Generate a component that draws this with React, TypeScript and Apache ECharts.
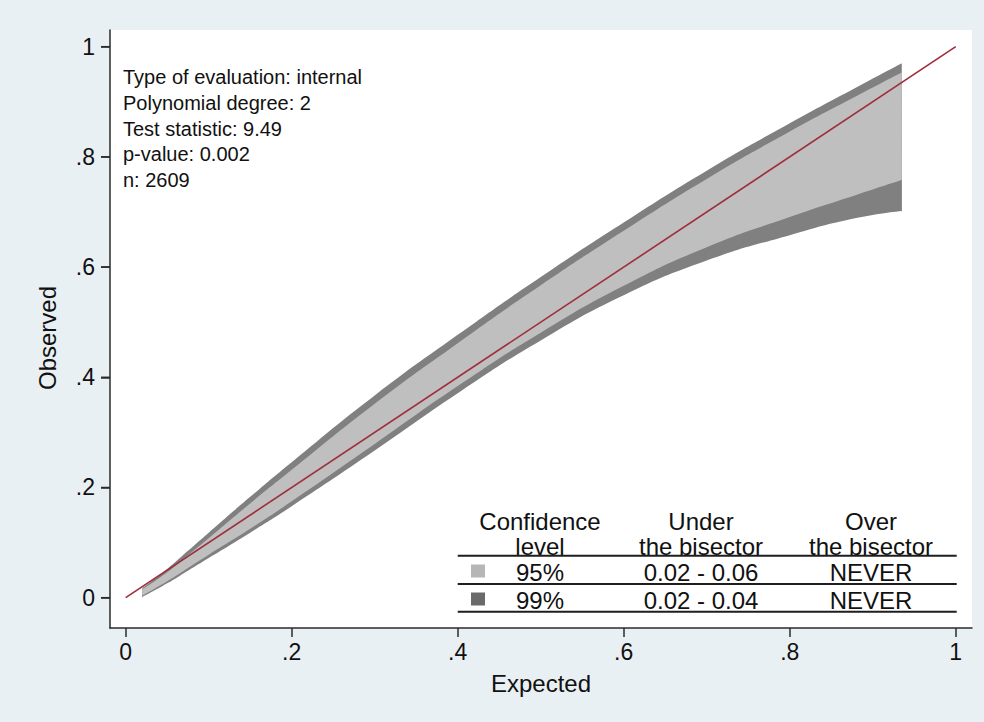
import React, { useEffect, useRef } from "react";
import * as echarts from "echarts";

// Calibration belt
const beltX = [0.02, 0.05, 0.075, 0.1, 0.15, 0.2, 0.3, 0.4, 0.5, 0.6, 0.7, 0.8, 0.88, 0.935];
const upper99 = [0.017, 0.052, 0.085, 0.118, 0.183, 0.246, 0.367, 0.477, 0.582, 0.681, 0.775, 0.861, 0.926, 0.97];
const upper95 = [0.015, 0.046, 0.077, 0.108, 0.171, 0.232, 0.352, 0.462, 0.567, 0.666, 0.76, 0.846, 0.91, 0.953];
const lower95 = [0.004, 0.03, 0.054, 0.078, 0.125, 0.175, 0.279, 0.384, 0.481, 0.566, 0.636, 0.691, 0.731, 0.758];
const lower99 = [0.001, 0.026, 0.049, 0.072, 0.118, 0.166, 0.267, 0.371, 0.467, 0.549, 0.612, 0.658, 0.689, 0.702];

const bisector = [
  [0, 0],
  [1, 1],
];

const tickValues = [0, 0.2, 0.4, 0.6, 0.8, 1];

const statsLines = [
  "Type of evaluation: internal",
  "Polynomial degree: 2",
  "Test statistic: 9.49",
  "p-value: 0.002",
  "n: 2609",
];

const tableHeader1 = ["Confidence", "Under", "Over"];
const tableHeader2 = ["level", "the bisector", "the bisector"];
const confLevels = ["95%", "99%"];
const underRanges = ["0.02 - 0.06", "0.02 - 0.04"];
const overRanges = ["NEVER", "NEVER"];

const FONT = "'Liberation Sans', Arial, Helvetica, sans-serif";
const LIGHT = "#bfbfbf";
const DARK = "#808080";
const SQ_LIGHT = "#b6b6b6";
const SQ_DARK = "#6a6a6a";
const AXIS = "#2b2b2b";
const X_MIN = -0.0189;
const X_MAX = 1.0196;
const Y_MIN = -0.055;
const Y_MAX = 1.0303;

const fmtTick = (v: number) => {
  if (Math.abs(v) < 1e-9) return "0";
  if (Math.abs(v - 1) < 1e-9) return "1";
  return v.toFixed(1).replace(/^0/, "");
};

export default function App() {
  const ref = useRef<HTMLDivElement>(null);

  useEffect(() => {
    if (!ref.current) return;
    const chart = echarts.init(ref.current, undefined, { renderer: "svg" });

    const pts = (vals: number[]) => beltX.map((x, i) => [x, vals[i]]);

    const belt = (name: string, vals: number[], color: string) => ({
      type: "line" as const,
      name,
      data: pts(vals),
      symbol: "none",
      smooth: 0.5,
      lineStyle: { width: 0, opacity: 0 },
      areaStyle: { color, opacity: 1, origin: "start" },
      silent: true,
      z: 2,
    });

    const last = beltX.length - 1;

    // Table layout
    const colX = [540, 701, 871];
    const headY = [521.5, 546];
    const rowY = [572.5, 600.5];
    const ruleY = [555.7, 584, 611.7];
    const tableFs = 24;

    const graphics: any[] = [];
    statsLines.forEach((t, i) => {
      graphics.push({
        type: "text",
        left: 123,
        top: 67 + i * 25.8,
        z: 100,
        style: { text: t, fontSize: 20, fontFamily: FONT, fill: "#111" },
      });
    });
    const cell = (t: string, x: number, y: number) => ({
      type: "text",
      x,
      y,
      z: 100,
      style: { text: t, fontSize: tableFs, fontFamily: FONT, fill: "#111", align: "center", verticalAlign: "middle" },
    });
    tableHeader1.forEach((t, i) => graphics.push(cell(t, colX[i], headY[0])));
    tableHeader2.forEach((t, i) => graphics.push(cell(t, colX[i], headY[1])));
    confLevels.forEach((t, r) => {
      [t, underRanges[r], overRanges[r]].forEach((c, i) => graphics.push(cell(c, colX[i], rowY[r])));
      graphics.push({
        type: "rect",
        z: 100,
        shape: { x: 471, y: rowY[r] - 8, width: 14, height: 13 },
        style: { fill: r === 0 ? SQ_LIGHT : SQ_DARK },
      });
    });
    ruleY.forEach((y) => {
      graphics.push({
        type: "line",
        z: 100,
        shape: { x1: 457.7, y1: y, x2: 956.7, y2: y },
        style: { stroke: "#1e1e1e", lineWidth: 2 },
      });
    });
    graphics.push({
      type: "text",
      x: 541,
      y: 683,
      z: 100,
      style: { text: "Expected", fontSize: 24, fontFamily: FONT, fill: "#111", align: "center", verticalAlign: "middle" },
    });
    graphics.push({
      type: "text",
      x: 47,
      y: 338,
      z: 100,
      rotation: Math.PI / 2,
      style: { text: "Observed", fontSize: 24, fontFamily: FONT, fill: "#111", align: "center", verticalAlign: "middle" },
    });

    chart.setOption({
      animation: false,
      backgroundColor: "#e9f0f3",
      grid: [{ left: 110, top: 30, width: 862, height: 598, show: true, backgroundColor: "#ffffff", borderWidth: 0 }],
      xAxis: {
        type: "value",
        min: X_MIN,
        max: X_MAX,
        z: 20,
        axisLine: { show: true, onZero: false, lineStyle: { color: AXIS, width: 1.5 } },
        axisTick: { show: true, inside: false, length: 9, customValues: tickValues, lineStyle: { color: AXIS, width: 1.5 } },
        axisLabel: { margin: 12, fontSize: 23, fontFamily: FONT, color: "#111", customValues: tickValues, formatter: fmtTick },
        splitLine: { show: false },
      },
      yAxis: {
        type: "value",
        min: Y_MIN,
        max: Y_MAX,
        z: 20,
        axisLine: { show: true, onZero: false, lineStyle: { color: AXIS, width: 1.5 } },
        axisTick: { show: true, inside: false, length: 9, customValues: tickValues, lineStyle: { color: AXIS, width: 1.5 } },
        axisLabel: { margin: 15, fontSize: 23, fontFamily: FONT, color: "#111", customValues: tickValues, formatter: fmtTick },
        splitLine: { show: false },
      },
      series: [
        belt("99% upper", upper99, DARK),
        belt("95% upper", upper95, LIGHT),
        belt("95% lower", lower95, DARK),
        belt("99% lower", lower99, "#ffffff"),
        {
          // hide the anti-aliasing seam under the belt's two vertical ends
          type: "custom",
          name: "seam",
          data: [
            [beltX[0], lower99[0]],
            [beltX[last], lower99[last]],
          ],
          encode: { x: 0, y: 1 },
          clip: false,
          silent: true,
          z: 3,
          renderItem: (_params: any, api: any) => {
            const top = api.coord([api.value(0), api.value(1)]);
            const bottom = api.coord([api.value(0), Y_MIN]);
            return {
              type: "line",
              shape: { x1: top[0], y1: top[1] + 1, x2: bottom[0], y2: bottom[1] },
              style: { stroke: "#ffffff", lineWidth: 2.5 },
            };
          },
        },
        {
          type: "line",
          name: "bisector",
          data: bisector,
          symbol: "none",
          z: 5,
          lineStyle: { color: "#a02c3c", width: 1.6 },
          silent: true,
        },
        {
          // y-axis tick marks, placed through the axis scale
          type: "custom",
          name: "yticks",
          data: tickValues.map((v) => [X_MIN, v]),
          encode: { x: 0, y: 1 },
          clip: false,
          silent: true,
          z: 6,
          renderItem: (_params: any, api: any) => {
            const p = api.coord([api.value(0), api.value(1)]);
            return {
              type: "line",
              shape: { x1: p[0] - 9, y1: p[1], x2: p[0], y2: p[1] },
              style: { stroke: AXIS, lineWidth: 1.5 },
            };
          },
        },
      ],
      graphic: graphics,
    });

    return () => chart.dispose();
  }, []);

  return <div ref={ref} style={{ position: "absolute", left: 0, top: 0, width: 984, height: 722 }} />;
}
